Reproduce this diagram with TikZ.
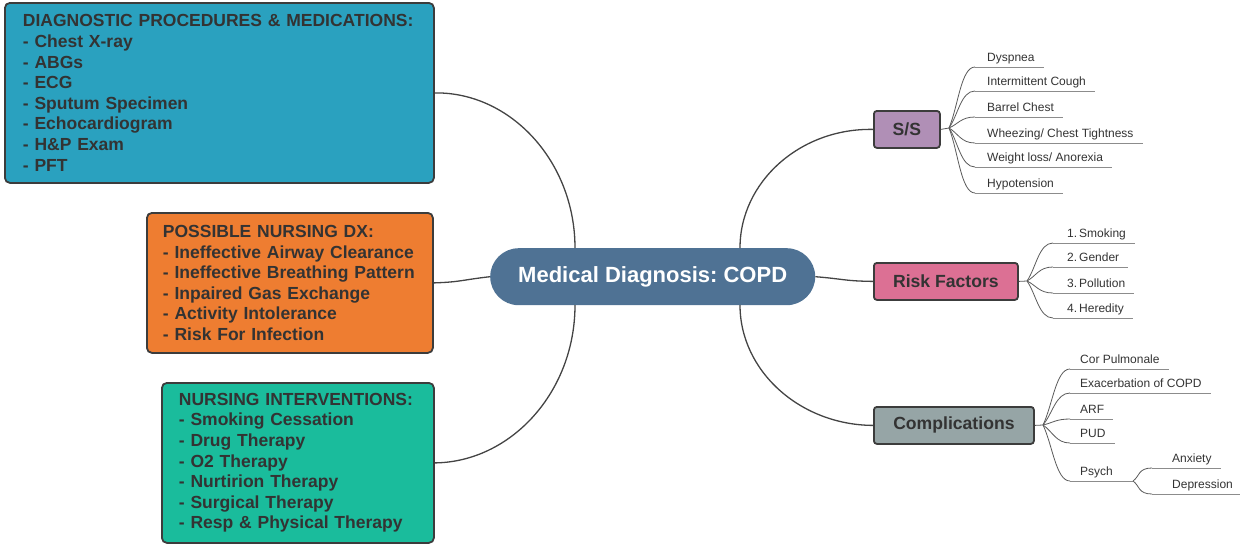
\documentclass[tikz,border=0pt]{standalone}
\usepackage{fontspec}
\setmainfont{Liberation Sans}
\usetikzlibrary{calc}
\frenchspacing
\definecolor{bordc}{RGB}{60,60,60}
\definecolor{txtc}{RGB}{51,51,51}
\definecolor{diagc}{RGB}{42,161,191}
\definecolor{nursc}{RGB}{238,125,49}
\definecolor{intc}{RGB}{26,188,156}
\definecolor{centc}{RGB}{79,114,148}
\definecolor{ssc}{RGB}{176,143,182}
\definecolor{riskc}{RGB}{220,112,148}
\definecolor{compc}{RGB}{150,165,166}
\definecolor{linec}{RGB}{68,68,68}
\definecolor{twigc}{RGB}{90,90,90}
\definecolor{underc}{RGB}{140,140,140}
\newcommand{\leafnode}[6]{%
  \node[leaf, anchor=base west] (#1) at (#3,#4-5.5) {#5};
  \coordinate (#1-l) at (#3-#6,#4);
  \coordinate (#1-r) at ($(#1.base east)+(9,5.5)$);
  \draw[under] (#1-l) -- (#1-r);
  \draw[twig] (#2) .. controls ($(#2)!0.35!(#1-l)$) and ($(#1-l)+(-14,0)$) .. (#1-l);
}
\begin{document}
\frenchspacing
\begin{tikzpicture}[x=1pt,y=-1pt,
  bigbox/.style={draw=bordc, line width=1.8pt, rounded corners=5pt, anchor=north west,
    align=left, text=txtc, font=\bfseries\fontsize{17.5}{20.6}\selectfont},
  sbox/.style={draw=bordc, line width=1.8pt, rounded corners=3pt, minimum height=37pt,
    text=txtc, font=\bfseries\fontsize{17.6}{20}\selectfont, anchor=north west},
  leaf/.style={inner xsep=0pt, inner ysep=0pt, text=txtc, font=\fontsize{12}{14}\selectfont},
  under/.style={draw=underc, line width=1pt},
  twig/.style={draw=twigc, line width=0.8pt},
  branch/.style={draw=linec, line width=1.3pt}]
\useasboundingbox (0,0) rectangle (1240,544);

% main boxes
\node[bigbox, fill=diagc, inner xsep=18pt, text width=393pt, minimum height=180pt] (diag) at (4,2)
  {DIAGNOSTIC PROCEDURES \& MEDICATIONS:\\- Chest X-ray\\- ABGs\\- ECG\\- Sputum Specimen\\- Echocardiogram\\- H\&P Exam\\- PFT};
\node[bigbox, fill=nursc, inner xsep=16pt, text width=254pt, minimum height=140pt] (nurs) at (146,212)
  {POSSIBLE NURSING DX:\\- Ineffective Airway Clearance\\- Ineffective Breathing Pattern\\- Inpaired Gas Exchange\\- Activity Intolerance\\- Risk For Infection};
\node[bigbox, fill=intc, inner xsep=17pt, text width=238pt, minimum height=160pt] (inter) at (161,382)
  {NURSING INTERVENTIONS:\\- Smoking Cessation\\- Drug Therapy\\- O2 Therapy\\- Nurtirion Therapy\\- Surgical Therapy\\- Resp \& Physical Therapy};

% center
\node[fill=centc, rounded corners=28.5pt, minimum width=325pt, minimum height=57pt, anchor=north west,
  text=white, font=\bfseries\fontsize{22}{26}\selectfont] (cent) at (490,248) {Medical Diagnosis: COPD};

% right boxes
\node[sbox, fill=ssc, minimum width=66pt] (ss) at (873,110) {S/S};
\node[sbox, fill=riskc, minimum width=144pt] (risk) at (873,262) {Risk Factors};
\node[sbox, fill=compc, minimum width=160pt] (comp) at (873,406) {Complications};

% main connectors
\coordinate (ctl) at (575,248);
\coordinate (cbl) at (575,305);
\coordinate (ctr) at (740,248);
\coordinate (cbr) at (740,305);
\draw[branch] (ctl) .. controls (575,162) and (511,92) .. (diag.east);
\draw[branch] (cent.west) .. controls (461,280) and (461,282) .. (nurs.east);
\draw[branch] (cbl) .. controls (575,392) and (511,462) .. (inter.east);
\draw[branch] (ctr) .. controls (740,182) and (800,128) .. (ss.west);
\draw[branch] (cent.east) .. controls (844,279) and (844,281) .. (risk.west);
\draw[branch] (cbr) .. controls (740,371) and (800,425) .. (comp.west);

% S/S leaves
\coordinate (ssk) at (949,128);
\draw[twig] (ss.east) -- (ssk);
\leafnode{s1}{ssk}{987}{67}{Dyspnea}{12}
\leafnode{s2}{ssk}{987}{91}{Intermittent Cough}{12}
\leafnode{s3}{ssk}{987}{117}{Barrel Chest}{12}
\leafnode{s4}{ssk}{987}{143}{Wheezing/ Chest Tightness}{12}
\leafnode{s5}{ssk}{987}{167}{Weight loss/ Anorexia}{12}
\leafnode{s6}{ssk}{987}{193}{Hypotension}{12}

% Risk leaves
\coordinate (rsk) at (1027,281);
\draw[twig] (risk.east) -- (rsk);
\leafnode{r1}{rsk}{1067}{243}{1.\,Smoking}{14}
\leafnode{r2}{rsk}{1067}{267}{2.\,Gender}{14}
\leafnode{r3}{rsk}{1067}{293}{3.\,Pollution}{14}
\leafnode{r4}{rsk}{1067}{318}{4.\,Heredity}{14}

% Complication leaves
\coordinate (csk) at (1043,425);
\draw[twig] (comp.east) -- (csk);
\leafnode{c1}{csk}{1080}{369}{Cor Pulmonale}{10}
\leafnode{c2}{csk}{1080}{393}{Exacerbation of COPD}{10}
\leafnode{c3}{csk}{1080}{419}{ARF}{10}
\leafnode{c4}{csk}{1080}{443}{PUD}{10}
\node[leaf, anchor=base west] (c5) at (1080,481-5.5) {Psych};
\coordinate (c5-l) at (1070,481);
\coordinate (c5-r) at (1133,481);
\draw[under] (c5-l) -- (c5-r);
\draw[twig] (csk) .. controls ($(csk)!0.35!(c5-l)$) and ($(c5-l)+(-14,0)$) .. (c5-l);
\leafnode{p1}{c5-r}{1172}{468}{Anxiety}{20}
\leafnode{p2}{c5-r}{1172}{494}{Depression}{20}
\end{tikzpicture}
\end{document}
